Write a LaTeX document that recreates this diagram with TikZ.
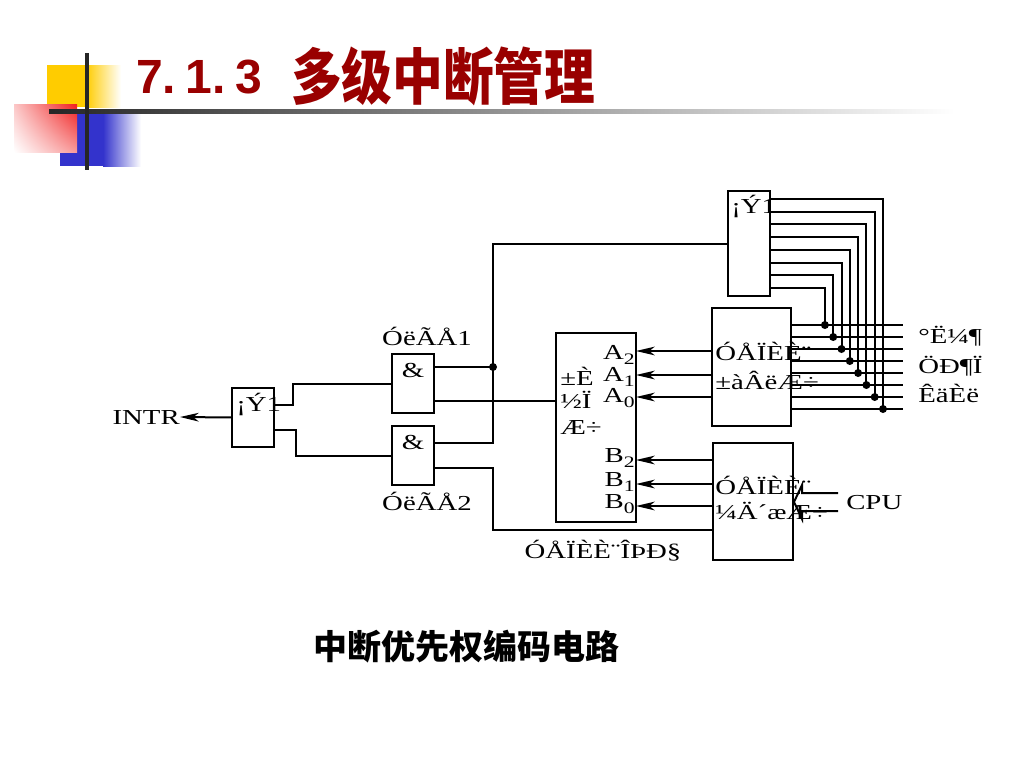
\documentclass[tikz,border=0pt]{standalone}
\usepackage{fontspec}
\usepackage{graphicx}
\usetikzlibrary{arrows.meta,calc,shadings}
\newfontfamily\cjk{Noto Sans CJK SC}
\newfontfamily\hv{Liberation Sans}
\newfontfamily\dg{Liberation Serif}[FakeStretch=1.35]
\definecolor{titlered}{RGB}{153,0,0}
\definecolor{decoyel}{RGB}{255,204,0}
\definecolor{decoblu}{RGB}{51,51,204}
\definecolor{decored}{RGB}{240,30,30}
\tikzset{
  blk/.style={draw,line width=1.5pt,inner sep=0pt,outer sep=0pt},
  gate/.style={blk,minimum width=31.5pt,minimum height=44.25pt},
  lbl/.style={inner sep=0pt,font=\fontsize{16}{18}\dg,text height=10.6pt,text depth=0pt},
  sublbl/.style={inner sep=0pt,font=\fontsize{16}{18}\dg,anchor=base east},
  wire/.style={line width=1.5pt},
  arr/.style={wire,-{Stealth[length=14pt,width=6.5pt,inset=4pt]}}
}
\newcommand{\subdig}[1]{\raisebox{-4pt}{\fontsize{12}{14}\dg #1}}
\begin{document}
\begin{tikzpicture}[x=0.75pt,y=-0.75pt]
\useasboundingbox (0,0) rectangle (1024,768);
\fill[decoyel] (47,65) rectangle (86,107);
\shade[left color=decoyel,right color=white] (86,65) rectangle (121,107);
\fill[decoblu] (60,114) rectangle (103,166);
\shade[left color=decoblu,right color=white] (103,114) rectangle (141,166);
\shade[upper right=decored,upper left=decored!25,lower right=decored!45,lower left=white]
  (14,104) rectangle (77,152);
\shade[left color=black!85,right color=white] (49,109) rectangle (955,113);
\draw[line width=2.3pt,black!85] (87,53) -- (87,170);
\node[anchor=west,inner sep=0pt,text=titlered,font=\fontsize{36}{40}\hv\bfseries]
  (titlenum) at (136,77.5) {7.\hspace{0.2em}1.\hspace{0.2em}3};
\node[anchor=west,inner sep=0pt,text=titlered,font=\fontsize{38}{40}\cjk\bfseries]
  (titlecn) at (291,76.5) {\scalebox{1}[1.2]{多级中断管理}};
\node[inner sep=0pt,font=\fontsize{25.5}{28}\cjk\bfseries] (caption) at (466,646.5) {中断优先权编码电路};

\node[gate] (orgate) at (253,417.5) {};
\node[gate] (and1) at (413,383.5) {};
\node[gate] (and2) at (413,455.5) {};
\node[blk,minimum width=60pt,minimum height=141.75pt] (cmp) at (596,427.5) {};
\node[blk,minimum width=31.5pt,minimum height=78.75pt] (orbig) at (749,243.5) {};
\node[blk,minimum width=59.25pt,minimum height=88.5pt] (penc) at (751.5,367) {};
\node[blk,minimum width=60pt,minimum height=87.75pt] (preg) at (753,501.5) {};

\node[lbl,anchor=west] (orlbl) at (236,404) {¡Ý1};
\node[lbl] (and1lbl) at (413,370) {\&};
\node[lbl] (and2lbl) at (413,442) {\&};
\node[lbl] (g1name) at (427,338) {ÓëÃÅ1};
\node[lbl] (g2name) at (427,503) {ÓëÃÅ2};
\node[lbl,anchor=east] (intr) at (180,417) {INTR};
\node[lbl,anchor=west] (orbiglbl) at (731,206) {¡Ý1};
\node[lbl,anchor=west] (cmp1) at (560,378) {±È};
\node[lbl,anchor=west] (cmp2) at (560,401) {½Ï};
\node[lbl,anchor=west] (cmp3) at (560,427) {Æ÷};
\node[lbl,anchor=west] (penc1) at (715,353) {ÓÅÏÈÈ¨};
\node[lbl,anchor=west] (penc2) at (715,382) {±àÂëÆ÷};
\node[lbl,anchor=west] (preg1) at (715,487) {ÓÅÏÈÈ¨};
\node[lbl,anchor=west] (preg2) at (715,512) {¼Ä´æÆ÷};
\node[lbl,anchor=west] (in1) at (918,336) {°Ë¼¶};
\node[lbl,anchor=west] (in2) at (918,366) {ÖÐ¶Ï};
\node[lbl,anchor=west] (in3) at (918,395) {ÊäÈë};
\node[lbl,anchor=west] (cpu) at (846,502) {CPU};
\node[lbl] (invlbl) at (603,551) {ÓÅÏÈÈ¨ÎÞÐ§};

\draw[arr] (orgate.west) -- (intr.east);
\draw[wire] ($(orgate.east)+(0,-12.5)$) -- ++(19,0) |- (and1.west);
\draw[wire] ($(orgate.east)+(0,12.5)$) -- ++(22,0) |- (and2.west);
\coordinate (jn) at (493,367);
\draw[wire] ($(and1.east)+(0,-16.5)$) -- (jn);
\fill (jn) circle (4);
\draw[wire] ($(and1.east)+(0,17.5)$) coordinate (a1lo) -- (a1lo -| cmp.west);
\draw[wire] ($(and2.east)+(0,-12.5)$) coordinate (a2up) -- (a2up -| jn) |- (orbig.west);
\coordinate (invl) at ($(preg.west)+(0,28.5)$);
\draw[wire] ($(and2.east)+(0,12.5)$) coordinate (a2lo) -- (a2lo -| jn) |- (invl);

\foreach \dy/\bl/\k in {-16/359/2, 8/381/1, 30/402/0} {
  \draw[arr] ($(penc.west)+(0,\dy)$) coordinate (s) -- (s -| cmp.east);
  \node[sublbl] (a\k) at (635,\bl) {A\subdig{\k}};
}
\foreach \dy/\bl/\k in {-41.5/462/2, -17.5/486/1, 4.5/508/0} {
  \draw[arr] ($(preg.west)+(0,\dy)$) coordinate (s) -- (s -| cmp.east);
  \node[sublbl] (b\k) at (635,\bl) {B\subdig{\k}};
}
\foreach \j in {0,...,7}
  \draw[wire] ($(penc.east)+(0,-42+12*\j)$) -- ++(112,0);
\foreach \i in {0,...,7} {
  \draw[wire] ($(orbig.east)+(0,-44.5+12.7*\i)$) -| ($(penc.east)+(92-8.3*\i,42-12*\i)$) coordinate (d\i);
  \fill (d\i) circle (4);
}
\draw[wire] ($(preg.east)+(45,-8.5)$) -- ++(-36,0) -- ++(0,-8) -- ++(-8,17) -- ++(8,17) -- ++(0,-8) -- ++(36,0);
\end{tikzpicture}
\end{document}
